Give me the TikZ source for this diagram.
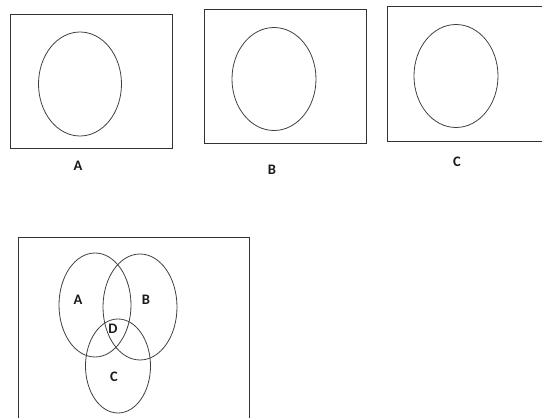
\documentclass[tikz,border=0pt]{standalone}
\usepackage{fontspec}
\setmainfont{Carlito}
\usetikzlibrary{shapes.geometric}
\begin{document}
\begin{tikzpicture}[x=1pt,y=-1pt,
  frame/.style={draw=black!80, line width=1pt},
  oval/.style={ellipse, draw=black!75, line width=0.8pt, inner sep=0pt, outer sep=0pt},
  tag/.style={font=\bfseries\fontsize{14.5}{16}\selectfont, text=black!90, inner sep=0pt}]
  \useasboundingbox (0,0) rectangle (542,418);
  \clip (0,0) rectangle (542,418);
  % three single sets
  \node[frame, minimum width=162pt, minimum height=134pt, inner sep=0pt] (boxA) at (91,81) {};
  \node[oval, minimum width=83pt, minimum height=104pt] (setA) at (80,84) {};
  \node[tag] (labA) at (78,166) {A};

  \node[frame, minimum width=162pt, minimum height=134pt, inner sep=0pt] (boxB) at (285,76) {};
  \node[oval, minimum width=84pt, minimum height=103pt] (setB) at (274,79) {};
  \node[tag] (labB) at (272,170) {B};

  \draw[frame] (560,6) -- (387,6) -- (387,141) -- (560,141);
  \node[oval, minimum width=84pt, minimum height=103pt] (setC) at (456,76) {};
  \node[tag] (labC) at (457,162) {C};

  % overlapping sets
  \draw[frame] (18,430) -- (18,237) -- (249,237) -- (249,430);
  \node[oval, minimum width=72pt, minimum height=104pt] (vA) at (95,305) {};
  \node[oval, minimum width=74pt, minimum height=106pt] (vB) at (140,307) {};
  \node[oval, minimum width=65pt, minimum height=94pt] (vC) at (118,366) {};
  \node[tag] (tA) at (78,300) {A};
  \node[tag] (tB) at (146,300) {B};
  \node[tag] (tD) at (113,329) {D};
  \node[tag] (tC) at (114,377) {C};
\end{tikzpicture}
\end{document}
